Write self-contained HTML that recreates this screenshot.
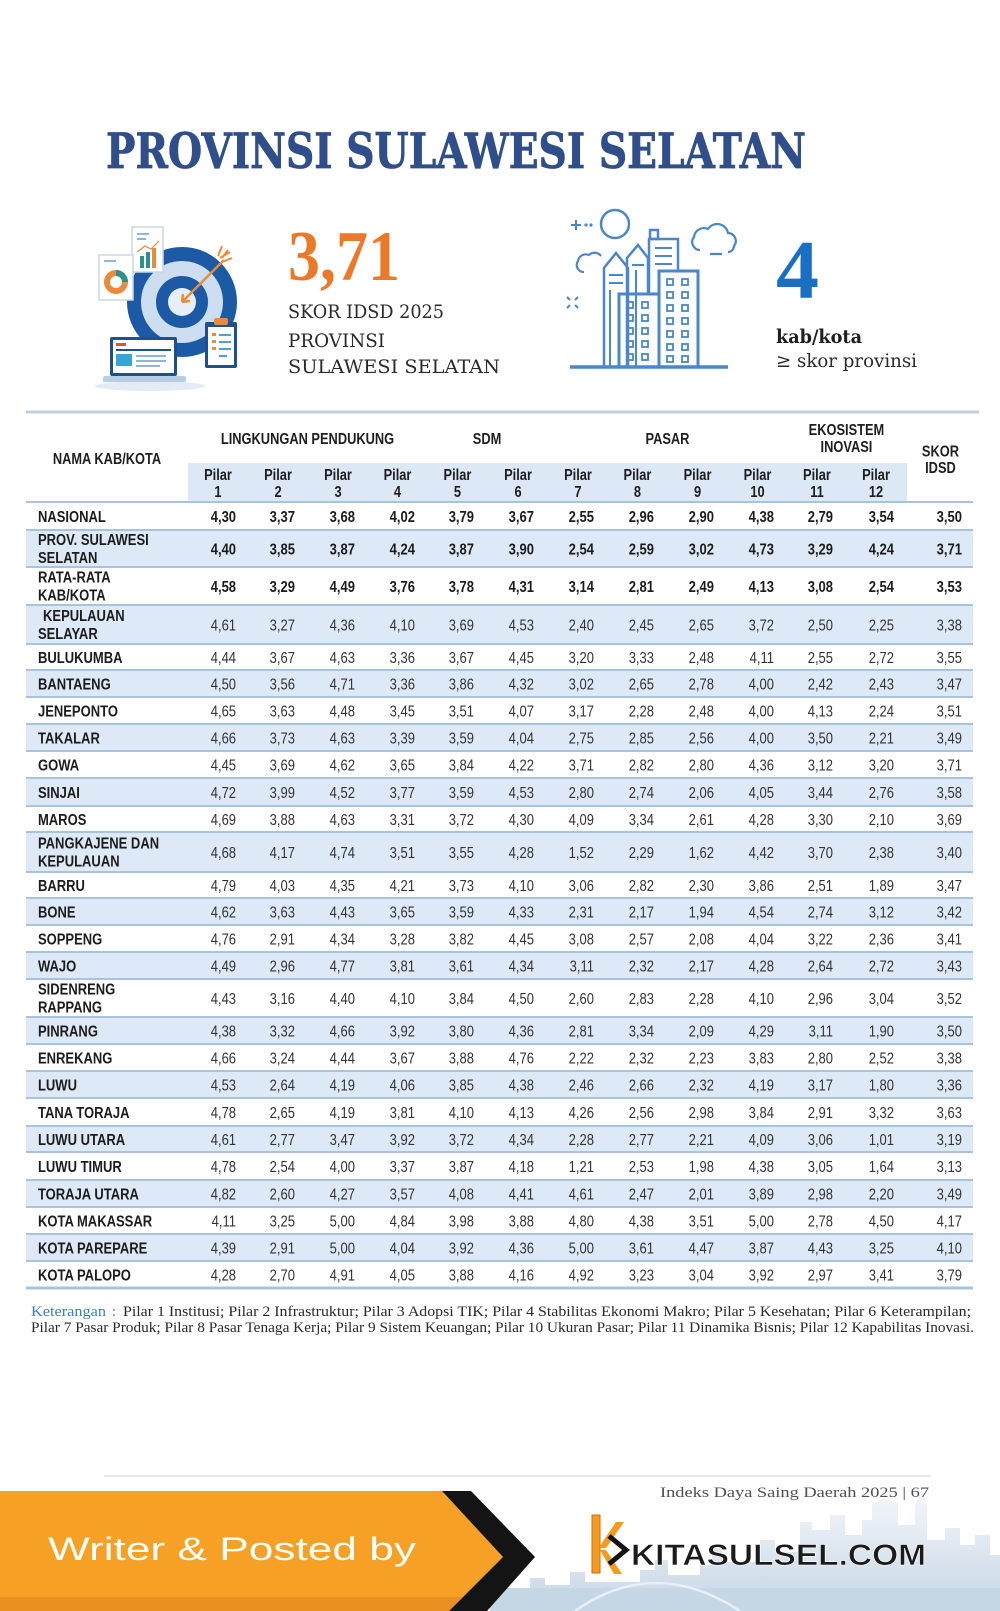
<!DOCTYPE html>
<html><head><meta charset="utf-8">
<style>
html,body{margin:0;padding:0;background:#fff;}
svg{display:block;}
.h{font-family:"Liberation Sans",Arial,sans-serif;font-weight:bold;font-size:15.3px;fill:#1e1e1e;text-anchor:middle;}
.n{font-family:"Liberation Sans",Arial,sans-serif;font-weight:bold;font-size:15.5px;fill:#1c1c1c;}
.vb{font-family:"Liberation Sans",Arial,sans-serif;font-weight:bold;font-size:15.5px;fill:#1c1c1c;text-anchor:end;}
.v{font-family:"Liberation Sans",Arial,sans-serif;font-size:15.5px;fill:#333;text-anchor:end;}
.sl{font-family:"DejaVu Serif","Liberation Serif",serif;}
</style></head><body>
<svg width="1000" height="1611" viewBox="0 0 1000 1611" xmlns="http://www.w3.org/2000/svg">
<defs>
<linearGradient id="sky" x1="0" y1="0" x2="0" y2="1">
<stop offset="0" stop-color="#f4f7fb"/>
<stop offset="1" stop-color="#c6d6e5"/>
</linearGradient>
</defs>
<rect width="1000" height="1611" fill="#fff"/>

<!-- Title -->
<text class="sl" x="106" y="168" font-size="49" font-weight="bold" fill="#2f4e8a" stroke="#2f4e8a" stroke-width="0.8" textLength="700" lengthAdjust="spacingAndGlyphs">PROVINSI SULAWESI SELATAN</text>

<!-- Left icon -->
<g>
<ellipse cx="150" cy="386" rx="55" ry="5" fill="#e3ebf4"/>
<circle cx="182" cy="302" r="55" fill="#1d5aa6"/>
<circle cx="182" cy="302" r="41" fill="#cddef1"/>
<circle cx="182" cy="302" r="26" fill="#1d5aa6"/>
<circle cx="182" cy="302" r="14" fill="#e6eef8"/>
<line x1="182" y1="302" x2="224" y2="260" stroke="#e98b3a" stroke-width="2.5"/>
<path d="M182 302 l8 -1 M182 302 l1 -8" stroke="#e98b3a" stroke-width="2.5"/>
<path d="M220 258 l10 -6 M222 262 l10 -4 M218 256 l4 -10 M222 258 l6 -8" stroke="#e98b3a" stroke-width="2"/>
<rect x="132" y="227" width="31" height="45" fill="#fff" stroke="#c9d7e6" stroke-width="1.5"/>
<rect x="137" y="233" width="12" height="2" fill="#8fb5dc"/>
<rect x="137" y="238" width="9" height="2" fill="#8fb5dc"/>
<rect x="140" y="256" width="4" height="12" fill="#2e8f8f"/>
<rect x="146" y="252" width="4" height="16" fill="#2e8f8f"/>
<rect x="152" y="248" width="4" height="20" fill="#e98b3a"/>
<path d="M137 252 l8 -6 l6 3 l8 -8" stroke="#e98b3a" stroke-width="1.2" fill="none"/>
<rect x="99" y="255" width="34" height="45" fill="#fff" stroke="#c9d7e6" stroke-width="1.5"/>
<rect x="104" y="260" width="12" height="2" fill="#8fb5dc"/>
<circle cx="116" cy="282" r="9" fill="none" stroke="#e98b3a" stroke-width="6"/>
<path d="M116 273 a9 9 0 0 1 9 9" fill="none" stroke="#2e8f8f" stroke-width="6"/>
<rect x="110" y="337" width="67" height="39" rx="2" fill="#1d4f91"/>
<rect x="113" y="340" width="61" height="33" fill="#fff"/>
<rect x="116" y="343" width="10" height="3" fill="#e2533a"/>
<rect x="116" y="349" width="55" height="2" fill="#1d4f91"/>
<rect x="116" y="354" width="16" height="12" fill="#37a6d6"/>
<rect x="136" y="355" width="30" height="2" fill="#8fb5dc"/>
<rect x="136" y="360" width="30" height="2" fill="#8fb5dc"/>
<rect x="136" y="365" width="24" height="2" fill="#8fb5dc"/>
<rect x="103" y="376" width="83" height="6" rx="2" fill="#b9cde3"/>
<rect x="205" y="322" width="32" height="46" rx="2" fill="#1d4f91"/>
<rect x="208" y="327" width="26" height="38" fill="#fff"/>
<rect x="214" y="318" width="14" height="7" rx="2" fill="#e98b3a"/>
<rect x="212" y="333" width="4" height="3" fill="#e98b3a"/><rect x="219" y="334" width="12" height="2" fill="#4aa3d8"/>
<rect x="212" y="340" width="4" height="3" fill="#e98b3a"/><rect x="219" y="341" width="12" height="2" fill="#4aa3d8"/>
<rect x="212" y="347" width="4" height="3" fill="#e98b3a"/><rect x="219" y="348" width="12" height="2" fill="#4aa3d8"/>
<rect x="219" y="355" width="8" height="2" fill="#4aa3d8"/>
</g>

<!-- 3,71 block -->
<text x="288" y="280" font-family="Liberation Serif,serif" font-weight="bold" font-size="71" fill="#ea7a2a" textLength="112" lengthAdjust="spacingAndGlyphs">3,71</text>
<text class="sl" x="288" y="318" font-size="18.5" fill="#2a2a2a" textLength="156" lengthAdjust="spacingAndGlyphs">SKOR IDSD 2025</text>
<text class="sl" x="288" y="347" font-size="18.5" fill="#2a2a2a" textLength="97" lengthAdjust="spacingAndGlyphs">PROVINSI</text>
<text class="sl" x="288" y="373" font-size="18.5" fill="#2a2a2a" textLength="212" lengthAdjust="spacingAndGlyphs">SULAWESI SELATAN</text>

<!-- Building icon -->
<g fill="none" stroke="#4a86c8" stroke-width="2.5">
<line x1="570" y1="367" x2="728" y2="367" stroke-width="3.5"/>
<circle cx="615" cy="224" r="14"/>
<path d="M571 225 H581 M576 220 V230" stroke-width="2"/>
<circle cx="586" cy="225" r="0.8" stroke-width="1.6"/><circle cx="591" cy="225" r="0.8" stroke-width="1.6"/>
<path d="M567 297 l3 3 M578 297 l-3 3 M567 308 l3 -3 M578 308 l-3 -3" stroke-width="2"/>
<path d="M584 272 a7 7 0 0 1 -6 -11 a8 8 0 0 1 11 -6 a8 8 0 0 1 12 1" stroke-width="2.2"/>
<path d="M700 250 a8 8 0 0 1 -6 -13 a10 10 0 0 1 14 -8 a11 11 0 0 1 20 4 a8 8 0 0 1 6 13 a6 6 0 0 1 -6 6 M710 254 h12" stroke-width="2.2"/>
<path d="M604 367 V268 L616 253 L628 268 V367"/>
<path d="M609 275 h14 M609 283 h14 M610 290 V367" stroke-width="2"/>
<path d="M627 367 V258 L638 245 L648 258 V294"/>
<path d="M632 265 h12 M636 270 V367" stroke-width="2"/>
<path d="M649 294 V239 H678 V271"/>
<rect x="650" y="230" width="8" height="9"/>
<path d="M655 248 h17 M655 256 h17 M655 264 h17" stroke-width="2"/>
<rect x="619" y="294" width="40" height="73" stroke-width="3"/>
<rect x="659" y="271" width="39" height="96" stroke-width="3"/>
<g stroke-width="1.8">
<rect x="627" y="302" width="6" height="6"/><rect x="642" y="302" width="6" height="6"/>
<rect x="627" y="315" width="6" height="6"/><rect x="642" y="315" width="6" height="6"/>
<rect x="627" y="328" width="6" height="6"/><rect x="642" y="328" width="6" height="6"/>
<rect x="627" y="341" width="6" height="6"/><rect x="642" y="341" width="6" height="6"/>
<rect x="627" y="354" width="6" height="6"/><rect x="642" y="354" width="6" height="6"/>
<rect x="667" y="279" width="6" height="6"/><rect x="682" y="279" width="6" height="6"/>
<rect x="667" y="292" width="6" height="6"/><rect x="682" y="292" width="6" height="6"/>
<rect x="667" y="305" width="6" height="6"/><rect x="682" y="305" width="6" height="6"/>
<rect x="667" y="318" width="6" height="6"/><rect x="682" y="318" width="6" height="6"/>
<rect x="667" y="331" width="6" height="6"/><rect x="682" y="331" width="6" height="6"/>
<rect x="667" y="344" width="6" height="6"/><rect x="682" y="344" width="6" height="6"/>
<rect x="667" y="356" width="6" height="6"/><rect x="682" y="356" width="6" height="6"/>
</g>
</g>

<!-- 4 kab/kota -->
<text x="776" y="298" font-family="Liberation Serif,serif" font-weight="bold" font-size="84" fill="#1a6ec4" textLength="43" lengthAdjust="spacingAndGlyphs">4</text>
<text class="sl" x="776" y="343" font-size="19" font-weight="bold" fill="#1e1e1e" textLength="86" lengthAdjust="spacingAndGlyphs">kab/kota</text>
<text class="sl" x="776" y="367" font-size="19" fill="#2a2a2a" textLength="141" lengthAdjust="spacingAndGlyphs">≥ skor provinsi</text>

<!-- Table -->
<line x1="26" y1="412" x2="979" y2="412" stroke="#bfd0e1" stroke-width="3"/>
<rect x="188" y="463" width="719" height="39" fill="#dce8f5"/>
<g fill="#dde9f6">
<rect x="26" y="530" width="947" height="37"/>
<rect x="26" y="605" width="947" height="39"/>
<rect x="26" y="670" width="947" height="27"/>
<rect x="26" y="724" width="947" height="27"/>
<rect x="26" y="778" width="947" height="28"/>
<rect x="26" y="832" width="947" height="40"/>
<rect x="26" y="898" width="947" height="27"/>
<rect x="26" y="952" width="947" height="27"/>
<rect x="26" y="1017" width="947" height="27"/>
<rect x="26" y="1071" width="947" height="27"/>
<rect x="26" y="1126" width="947" height="26"/>
<rect x="26" y="1180" width="947" height="27"/>
<rect x="26" y="1234" width="947" height="27"/>
</g>
<path d="M26 502H973M26 530H973M26 567H973M26 605H973M26 644H973M26 670H973M26 697H973M26 724H973M26 751H973M26 778H973M26 806H973M26 832H973M26 872H973M26 898H973M26 925H973M26 952H973M26 979H973M26 1017H973M26 1044H973M26 1071H973M26 1098H973M26 1126H973M26 1152H973M26 1180H973M26 1207H973M26 1234H973M26 1261H973" stroke="#a9c3df" stroke-width="2"/>
<line x1="26" y1="1288" x2="973" y2="1288" stroke="#a9c3df" stroke-width="3"/>

<g transform="scale(0.84,1)">
<!-- header -->
<text class="h" x="127.4" y="464">NAMA KAB/KOTA</text>
<text class="h" x="366.1" y="444">LINGKUNGAN PENDUKUNG</text>
<text class="h" x="579.8" y="444">SDM</text>
<text class="h" x="794.6" y="444">PASAR</text>
<text class="h" x="1007.7" y="435">EKOSISTEM</text>
<text class="h" x="1007.7" y="452">INOVASI</text>
<text class="h" x="1119.6" y="456.5">SKOR</text>
<text class="h" x="1119.6" y="473">IDSD</text>
<text class="h" y="480" font-size="14.5"><tspan x="259.5">Pilar</tspan><tspan x="331">Pilar</tspan><tspan x="402.4">Pilar</tspan><tspan x="473.2">Pilar</tspan><tspan x="544.6">Pilar</tspan><tspan x="616.7">Pilar</tspan><tspan x="688.1">Pilar</tspan><tspan x="758.9">Pilar</tspan><tspan x="830.4">Pilar</tspan><tspan x="901.8">Pilar</tspan><tspan x="972.6">Pilar</tspan><tspan x="1042.9">Pilar</tspan></text>
<text class="h" y="497" font-size="14.5"><tspan x="259.5">1</tspan><tspan x="331">2</tspan><tspan x="402.4">3</tspan><tspan x="473.2">4</tspan><tspan x="544.6">5</tspan><tspan x="616.7">6</tspan><tspan x="688.1">7</tspan><tspan x="758.9">8</tspan><tspan x="830.4">9</tspan><tspan x="901.8">10</tspan><tspan x="972.6">11</tspan><tspan x="1042.9">12</tspan></text>

<!-- names -->
<text class="n" x="45.2" y="522">NASIONAL</text>
<text class="n" x="45.2" y="545">PROV. SULAWESI</text>
<text class="n" x="45.2" y="563">SELATAN</text>
<text class="n" x="45.2" y="582.5">RATA-RATA</text>
<text class="n" x="45.2" y="600.5">KAB/KOTA</text>
<text class="n" x="51.2" y="621">KEPULAUAN</text>
<text class="n" x="45.2" y="639">SELAYAR</text>
<text class="n" x="45.2" y="663">BULUKUMBA</text>
<text class="n" x="45.2" y="689.5">BANTAENG</text>
<text class="n" x="45.2" y="716.5">JENEPONTO</text>
<text class="n" x="45.2" y="743.5">TAKALAR</text>
<text class="n" x="45.2" y="770.5">GOWA</text>
<text class="n" x="45.2" y="798">SINJAI</text>
<text class="n" x="45.2" y="825">MAROS</text>
<text class="n" x="45.2" y="848.5">PANGKAJENE DAN</text>
<text class="n" x="45.2" y="866.5">KEPULAUAN</text>
<text class="n" x="45.2" y="891">BARRU</text>
<text class="n" x="45.2" y="917.5">BONE</text>
<text class="n" x="45.2" y="944.5">SOPPENG</text>
<text class="n" x="45.2" y="971.5">WAJO</text>
<text class="n" x="45.2" y="994.5">SIDENRENG</text>
<text class="n" x="45.2" y="1012.5">RAPPANG</text>
<text class="n" x="45.2" y="1036.5">PINRANG</text>
<text class="n" x="45.2" y="1063.5">ENREKANG</text>
<text class="n" x="45.2" y="1090.5">LUWU</text>
<text class="n" x="45.2" y="1118">TANA TORAJA</text>
<text class="n" x="45.2" y="1145">LUWU UTARA</text>
<text class="n" x="45.2" y="1172">LUWU TIMUR</text>
<text class="n" x="45.2" y="1199.5">TORAJA UTARA</text>
<text class="n" x="45.2" y="1226.5">KOTA MAKASSAR</text>
<text class="n" x="45.2" y="1253.5">KOTA PAREPARE</text>
<text class="n" x="45.2" y="1280.5">KOTA PALOPO</text>

<!-- values -->
<text class="vb" y="522"><tspan x="281">4,30</tspan><tspan x="351.2">3,37</tspan><tspan x="422.6">3,68</tspan><tspan x="494">4,02</tspan><tspan x="564.3">3,79</tspan><tspan x="635.7">3,67</tspan><tspan x="707.1">2,55</tspan><tspan x="778.6">2,96</tspan><tspan x="850">2,90</tspan><tspan x="921.4">4,38</tspan><tspan x="991.7">2,79</tspan><tspan x="1064.3">3,54</tspan><tspan x="1145.2">3,50</tspan></text>
<text class="vb" y="554.5"><tspan x="281">4,40</tspan><tspan x="351.2">3,85</tspan><tspan x="422.6">3,87</tspan><tspan x="494">4,24</tspan><tspan x="564.3">3,87</tspan><tspan x="635.7">3,90</tspan><tspan x="707.1">2,54</tspan><tspan x="778.6">2,59</tspan><tspan x="850">3,02</tspan><tspan x="921.4">4,73</tspan><tspan x="991.7">3,29</tspan><tspan x="1064.3">4,24</tspan><tspan x="1145.2">3,71</tspan></text>
<text class="vb" y="592"><tspan x="281">4,58</tspan><tspan x="351.2">3,29</tspan><tspan x="422.6">4,49</tspan><tspan x="494">3,76</tspan><tspan x="564.3">3,78</tspan><tspan x="635.7">4,31</tspan><tspan x="707.1">3,14</tspan><tspan x="778.6">2,81</tspan><tspan x="850">2,49</tspan><tspan x="921.4">4,13</tspan><tspan x="991.7">3,08</tspan><tspan x="1064.3">2,54</tspan><tspan x="1145.2">3,53</tspan></text>
<text class="v" y="630.5"><tspan x="281">4,61</tspan><tspan x="351.2">3,27</tspan><tspan x="422.6">4,36</tspan><tspan x="494">4,10</tspan><tspan x="564.3">3,69</tspan><tspan x="635.7">4,53</tspan><tspan x="707.1">2,40</tspan><tspan x="778.6">2,45</tspan><tspan x="850">2,65</tspan><tspan x="921.4">3,72</tspan><tspan x="991.7">2,50</tspan><tspan x="1064.3">2,25</tspan><tspan x="1145.2">3,38</tspan></text>
<text class="v" y="663"><tspan x="281">4,44</tspan><tspan x="351.2">3,67</tspan><tspan x="422.6">4,63</tspan><tspan x="494">3,36</tspan><tspan x="564.3">3,67</tspan><tspan x="635.7">4,45</tspan><tspan x="707.1">3,20</tspan><tspan x="778.6">3,33</tspan><tspan x="850">2,48</tspan><tspan x="921.4">4,11</tspan><tspan x="991.7">2,55</tspan><tspan x="1064.3">2,72</tspan><tspan x="1145.2">3,55</tspan></text>
<text class="v" y="689.5"><tspan x="281">4,50</tspan><tspan x="351.2">3,56</tspan><tspan x="422.6">4,71</tspan><tspan x="494">3,36</tspan><tspan x="564.3">3,86</tspan><tspan x="635.7">4,32</tspan><tspan x="707.1">3,02</tspan><tspan x="778.6">2,65</tspan><tspan x="850">2,78</tspan><tspan x="921.4">4,00</tspan><tspan x="991.7">2,42</tspan><tspan x="1064.3">2,43</tspan><tspan x="1145.2">3,47</tspan></text>
<text class="v" y="716.5"><tspan x="281">4,65</tspan><tspan x="351.2">3,63</tspan><tspan x="422.6">4,48</tspan><tspan x="494">3,45</tspan><tspan x="564.3">3,51</tspan><tspan x="635.7">4,07</tspan><tspan x="707.1">3,17</tspan><tspan x="778.6">2,28</tspan><tspan x="850">2,48</tspan><tspan x="921.4">4,00</tspan><tspan x="991.7">4,13</tspan><tspan x="1064.3">2,24</tspan><tspan x="1145.2">3,51</tspan></text>
<text class="v" y="743.5"><tspan x="281">4,66</tspan><tspan x="351.2">3,73</tspan><tspan x="422.6">4,63</tspan><tspan x="494">3,39</tspan><tspan x="564.3">3,59</tspan><tspan x="635.7">4,04</tspan><tspan x="707.1">2,75</tspan><tspan x="778.6">2,85</tspan><tspan x="850">2,56</tspan><tspan x="921.4">4,00</tspan><tspan x="991.7">3,50</tspan><tspan x="1064.3">2,21</tspan><tspan x="1145.2">3,49</tspan></text>
<text class="v" y="770.5"><tspan x="281">4,45</tspan><tspan x="351.2">3,69</tspan><tspan x="422.6">4,62</tspan><tspan x="494">3,65</tspan><tspan x="564.3">3,84</tspan><tspan x="635.7">4,22</tspan><tspan x="707.1">3,71</tspan><tspan x="778.6">2,82</tspan><tspan x="850">2,80</tspan><tspan x="921.4">4,36</tspan><tspan x="991.7">3,12</tspan><tspan x="1064.3">3,20</tspan><tspan x="1145.2">3,71</tspan></text>
<text class="v" y="798"><tspan x="281">4,72</tspan><tspan x="351.2">3,99</tspan><tspan x="422.6">4,52</tspan><tspan x="494">3,77</tspan><tspan x="564.3">3,59</tspan><tspan x="635.7">4,53</tspan><tspan x="707.1">2,80</tspan><tspan x="778.6">2,74</tspan><tspan x="850">2,06</tspan><tspan x="921.4">4,05</tspan><tspan x="991.7">3,44</tspan><tspan x="1064.3">2,76</tspan><tspan x="1145.2">3,58</tspan></text>
<text class="v" y="825"><tspan x="281">4,69</tspan><tspan x="351.2">3,88</tspan><tspan x="422.6">4,63</tspan><tspan x="494">3,31</tspan><tspan x="564.3">3,72</tspan><tspan x="635.7">4,30</tspan><tspan x="707.1">4,09</tspan><tspan x="778.6">3,34</tspan><tspan x="850">2,61</tspan><tspan x="921.4">4,28</tspan><tspan x="991.7">3,30</tspan><tspan x="1064.3">2,10</tspan><tspan x="1145.2">3,69</tspan></text>
<text class="v" y="858"><tspan x="281">4,68</tspan><tspan x="351.2">4,17</tspan><tspan x="422.6">4,74</tspan><tspan x="494">3,51</tspan><tspan x="564.3">3,55</tspan><tspan x="635.7">4,28</tspan><tspan x="707.1">1,52</tspan><tspan x="778.6">2,29</tspan><tspan x="850">1,62</tspan><tspan x="921.4">4,42</tspan><tspan x="991.7">3,70</tspan><tspan x="1064.3">2,38</tspan><tspan x="1145.2">3,40</tspan></text>
<text class="v" y="891"><tspan x="281">4,79</tspan><tspan x="351.2">4,03</tspan><tspan x="422.6">4,35</tspan><tspan x="494">4,21</tspan><tspan x="564.3">3,73</tspan><tspan x="635.7">4,10</tspan><tspan x="707.1">3,06</tspan><tspan x="778.6">2,82</tspan><tspan x="850">2,30</tspan><tspan x="921.4">3,86</tspan><tspan x="991.7">2,51</tspan><tspan x="1064.3">1,89</tspan><tspan x="1145.2">3,47</tspan></text>
<text class="v" y="917.5"><tspan x="281">4,62</tspan><tspan x="351.2">3,63</tspan><tspan x="422.6">4,43</tspan><tspan x="494">3,65</tspan><tspan x="564.3">3,59</tspan><tspan x="635.7">4,33</tspan><tspan x="707.1">2,31</tspan><tspan x="778.6">2,17</tspan><tspan x="850">1,94</tspan><tspan x="921.4">4,54</tspan><tspan x="991.7">2,74</tspan><tspan x="1064.3">3,12</tspan><tspan x="1145.2">3,42</tspan></text>
<text class="v" y="944.5"><tspan x="281">4,76</tspan><tspan x="351.2">2,91</tspan><tspan x="422.6">4,34</tspan><tspan x="494">3,28</tspan><tspan x="564.3">3,82</tspan><tspan x="635.7">4,45</tspan><tspan x="707.1">3,08</tspan><tspan x="778.6">2,57</tspan><tspan x="850">2,08</tspan><tspan x="921.4">4,04</tspan><tspan x="991.7">3,22</tspan><tspan x="1064.3">2,36</tspan><tspan x="1145.2">3,41</tspan></text>
<text class="v" y="971.5"><tspan x="281">4,49</tspan><tspan x="351.2">2,96</tspan><tspan x="422.6">4,77</tspan><tspan x="494">3,81</tspan><tspan x="564.3">3,61</tspan><tspan x="635.7">4,34</tspan><tspan x="707.1">3,11</tspan><tspan x="778.6">2,32</tspan><tspan x="850">2,17</tspan><tspan x="921.4">4,28</tspan><tspan x="991.7">2,64</tspan><tspan x="1064.3">2,72</tspan><tspan x="1145.2">3,43</tspan></text>
<text class="v" y="1004"><tspan x="281">4,43</tspan><tspan x="351.2">3,16</tspan><tspan x="422.6">4,40</tspan><tspan x="494">4,10</tspan><tspan x="564.3">3,84</tspan><tspan x="635.7">4,50</tspan><tspan x="707.1">2,60</tspan><tspan x="778.6">2,83</tspan><tspan x="850">2,28</tspan><tspan x="921.4">4,10</tspan><tspan x="991.7">2,96</tspan><tspan x="1064.3">3,04</tspan><tspan x="1145.2">3,52</tspan></text>
<text class="v" y="1036.5"><tspan x="281">4,38</tspan><tspan x="351.2">3,32</tspan><tspan x="422.6">4,66</tspan><tspan x="494">3,92</tspan><tspan x="564.3">3,80</tspan><tspan x="635.7">4,36</tspan><tspan x="707.1">2,81</tspan><tspan x="778.6">3,34</tspan><tspan x="850">2,09</tspan><tspan x="921.4">4,29</tspan><tspan x="991.7">3,11</tspan><tspan x="1064.3">1,90</tspan><tspan x="1145.2">3,50</tspan></text>
<text class="v" y="1063.5"><tspan x="281">4,66</tspan><tspan x="351.2">3,24</tspan><tspan x="422.6">4,44</tspan><tspan x="494">3,67</tspan><tspan x="564.3">3,88</tspan><tspan x="635.7">4,76</tspan><tspan x="707.1">2,22</tspan><tspan x="778.6">2,32</tspan><tspan x="850">2,23</tspan><tspan x="921.4">3,83</tspan><tspan x="991.7">2,80</tspan><tspan x="1064.3">2,52</tspan><tspan x="1145.2">3,38</tspan></text>
<text class="v" y="1090.5"><tspan x="281">4,53</tspan><tspan x="351.2">2,64</tspan><tspan x="422.6">4,19</tspan><tspan x="494">4,06</tspan><tspan x="564.3">3,85</tspan><tspan x="635.7">4,38</tspan><tspan x="707.1">2,46</tspan><tspan x="778.6">2,66</tspan><tspan x="850">2,32</tspan><tspan x="921.4">4,19</tspan><tspan x="991.7">3,17</tspan><tspan x="1064.3">1,80</tspan><tspan x="1145.2">3,36</tspan></text>
<text class="v" y="1118"><tspan x="281">4,78</tspan><tspan x="351.2">2,65</tspan><tspan x="422.6">4,19</tspan><tspan x="494">3,81</tspan><tspan x="564.3">4,10</tspan><tspan x="635.7">4,13</tspan><tspan x="707.1">4,26</tspan><tspan x="778.6">2,56</tspan><tspan x="850">2,98</tspan><tspan x="921.4">3,84</tspan><tspan x="991.7">2,91</tspan><tspan x="1064.3">3,32</tspan><tspan x="1145.2">3,63</tspan></text>
<text class="v" y="1145"><tspan x="281">4,61</tspan><tspan x="351.2">2,77</tspan><tspan x="422.6">3,47</tspan><tspan x="494">3,92</tspan><tspan x="564.3">3,72</tspan><tspan x="635.7">4,34</tspan><tspan x="707.1">2,28</tspan><tspan x="778.6">2,77</tspan><tspan x="850">2,21</tspan><tspan x="921.4">4,09</tspan><tspan x="991.7">3,06</tspan><tspan x="1064.3">1,01</tspan><tspan x="1145.2">3,19</tspan></text>
<text class="v" y="1172"><tspan x="281">4,78</tspan><tspan x="351.2">2,54</tspan><tspan x="422.6">4,00</tspan><tspan x="494">3,37</tspan><tspan x="564.3">3,87</tspan><tspan x="635.7">4,18</tspan><tspan x="707.1">1,21</tspan><tspan x="778.6">2,53</tspan><tspan x="850">1,98</tspan><tspan x="921.4">4,38</tspan><tspan x="991.7">3,05</tspan><tspan x="1064.3">1,64</tspan><tspan x="1145.2">3,13</tspan></text>
<text class="v" y="1199.5"><tspan x="281">4,82</tspan><tspan x="351.2">2,60</tspan><tspan x="422.6">4,27</tspan><tspan x="494">3,57</tspan><tspan x="564.3">4,08</tspan><tspan x="635.7">4,41</tspan><tspan x="707.1">4,61</tspan><tspan x="778.6">2,47</tspan><tspan x="850">2,01</tspan><tspan x="921.4">3,89</tspan><tspan x="991.7">2,98</tspan><tspan x="1064.3">2,20</tspan><tspan x="1145.2">3,49</tspan></text>
<text class="v" y="1226.5"><tspan x="281">4,11</tspan><tspan x="351.2">3,25</tspan><tspan x="422.6">5,00</tspan><tspan x="494">4,84</tspan><tspan x="564.3">3,98</tspan><tspan x="635.7">3,88</tspan><tspan x="707.1">4,80</tspan><tspan x="778.6">4,38</tspan><tspan x="850">3,51</tspan><tspan x="921.4">5,00</tspan><tspan x="991.7">2,78</tspan><tspan x="1064.3">4,50</tspan><tspan x="1145.2">4,17</tspan></text>
<text class="v" y="1253.5"><tspan x="281">4,39</tspan><tspan x="351.2">2,91</tspan><tspan x="422.6">5,00</tspan><tspan x="494">4,04</tspan><tspan x="564.3">3,92</tspan><tspan x="635.7">4,36</tspan><tspan x="707.1">5,00</tspan><tspan x="778.6">3,61</tspan><tspan x="850">4,47</tspan><tspan x="921.4">3,87</tspan><tspan x="991.7">4,43</tspan><tspan x="1064.3">3,25</tspan><tspan x="1145.2">4,10</tspan></text>
<text class="v" y="1280.5"><tspan x="281">4,28</tspan><tspan x="351.2">2,70</tspan><tspan x="422.6">4,91</tspan><tspan x="494">4,05</tspan><tspan x="564.3">3,88</tspan><tspan x="635.7">4,16</tspan><tspan x="707.1">4,92</tspan><tspan x="778.6">3,23</tspan><tspan x="850">3,04</tspan><tspan x="921.4">3,92</tspan><tspan x="991.7">2,97</tspan><tspan x="1064.3">3,41</tspan><tspan x="1145.2">3,79</tspan></text>
</g>

<!-- Keterangan -->
<text x="31" y="1316" font-family="Liberation Serif,serif" font-size="14.5" fill="#3b7cc0" textLength="75" lengthAdjust="spacingAndGlyphs">Keterangan</text>
<text x="112" y="1316" font-family="Liberation Serif,serif" font-size="14.5" fill="#3b7cc0">:</text>
<text x="123" y="1316" font-family="Liberation Serif,serif" font-size="14.5" fill="#2a2a2a" textLength="848" lengthAdjust="spacingAndGlyphs">Pilar 1 Institusi; Pilar 2 Infrastruktur; Pilar 3 Adopsi TIK; Pilar 4 Stabilitas Ekonomi Makro; Pilar 5 Kesehatan; Pilar 6 Keterampilan;</text>
<text x="31" y="1332" font-family="Liberation Serif,serif" font-size="14.5" fill="#2a2a2a" textLength="943" lengthAdjust="spacingAndGlyphs">Pilar 7 Pasar Produk; Pilar 8 Pasar Tenaga Kerja; Pilar 9 Sistem Keuangan; Pilar 10 Ukuran Pasar; Pilar 11 Dinamika Bisnis; Pilar 12 Kapabilitas Inovasi.</text>

<!-- Footer -->
<line x1="104" y1="1476" x2="931" y2="1476" stroke="#e2e2e2" stroke-width="1.5"/>
<path d="M490 1611 L490 1590 L530 1590 L530 1578 L545 1578 L545 1585 L570 1585 L570 1572 L585 1572 L585 1582 L640 1582 L640 1570 L655 1570 L655 1560 L668 1560 L668 1575 L700 1575 L700 1565 L712 1565 L712 1548 L722 1548 L722 1562 L760 1562 L760 1540 L775 1540 L775 1552 L800 1552 L800 1522 L812 1522 L812 1530 L830 1530 L830 1515 L845 1515 L845 1535 L862 1535 L862 1520 L872 1520 L872 1503 L885 1499 L898 1503 L898 1525 L915 1525 L915 1505 L921 1490 L927 1505 L927 1540 L945 1540 L945 1528 L960 1528 L960 1545 L975 1545 L975 1535 L990 1535 L990 1555 L1000 1555 L1000 1611 Z" fill="url(#sky)"/>
<rect x="490" y="1588" width="510" height="23" fill="#c5d6e5"/>
<path d="M575 1611 Q655 1555 740 1611" fill="none" stroke="#e8eff6" stroke-width="2.5"/>
<text x="660" y="1497" font-family="Liberation Serif,serif" font-size="15" fill="#505050" textLength="269" lengthAdjust="spacingAndGlyphs">Indeks Daya Saing Daerah 2025 | 67</text>

<polygon points="0,1491 442,1491 503,1557 449,1611 0,1611" fill="#f6a125"/>
<polygon points="0,1597 462,1597 449,1611 0,1611" fill="#ea9020"/>
<polygon points="442,1491 471,1491 535,1557 487,1611 449,1611 503,1557" fill="#141414"/>
<text x="48" y="1560" font-family="Liberation Sans,Arial,sans-serif" font-size="32" fill="#ffffff" textLength="368" lengthAdjust="spacingAndGlyphs">Writer &amp; Posted by</text>

<!-- Logo -->
<rect x="592" y="1515" width="8" height="58" fill="#f39a1f" stroke="#c86f10" stroke-width="1"/>
<polygon points="600,1546 616,1522 624,1522 606,1548 600,1548" fill="#f39a1f"/>
<polygon points="600,1550 606,1550 622,1574 614,1574" fill="#f39a1f"/>
<path d="M609 1536 L626 1550 L609 1564" fill="none" stroke="#141414" stroke-width="5"/>
<text x="631" y="1565" font-family="Liberation Sans,Arial,sans-serif" font-weight="bold" font-size="30" fill="#1b1b1b" stroke="#ffffff" stroke-width="0.6" textLength="295" lengthAdjust="spacingAndGlyphs">KITASULSEL.COM</text>
</svg>
</body></html>
